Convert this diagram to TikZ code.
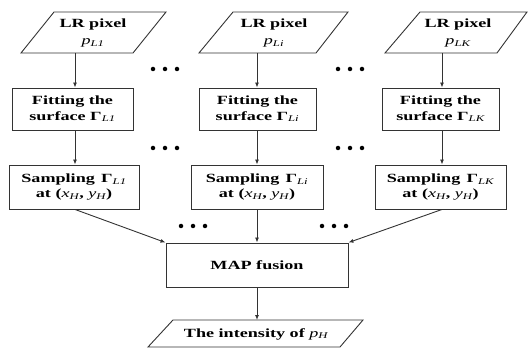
\documentclass[tikz,border=0pt]{standalone}
\usepackage{fontspec}
\setmainfont{Liberation Serif}[FakeStretch=1.45]
\usetikzlibrary{arrows.meta}
\newcommand\isub[2]{{\mdseries\itshape #1\textsubscript{#2}}}
\newcommand\gsub[1]{Γ{\mdseries\itshape\textsubscript{#1}}}
\begin{document}
\begin{tikzpicture}[x=1pt,y=-1pt,
  ln/.style={draw=black!80,line width=0.9pt},
  arr/.style={ln,-{Latex[length=5pt,width=4pt]}},
  box/.style={ln,rectangle,inner sep=0pt,align=center,font=\bfseries\fontsize{12.5}{15.5}\selectfont},
  txt/.style={inner sep=0pt,align=center,font=\bfseries\fontsize{12.5}{15.5}\selectfont},
  dot/.style={fill=black,circle,inner sep=0pt,minimum size=4.5pt}]
\useasboundingbox (0,0) rectangle (528,350);
% input parallelograms
\draw[ln] (21,53) -- (54,12) -- (166,12) -- (133,53) -- cycle;
\draw[ln] (199,53) -- (233,12) -- (348,12) -- (316,53) -- cycle;
\draw[ln] (385,53) -- (420,12) -- (527,12) -- (497,53) -- cycle;
\node[txt] (in1) at (93,33) {LR pixel\\[1pt]\isub{p}{L1}};
\node[txt] (in2) at (274,33) {LR pixel\\[1pt]\isub{p}{Li}};
\node[txt] (in3) at (458,33) {LR pixel\\[1pt]\isub{p}{LK}};
\coordinate (o1) at (75,53);
\coordinate (o2) at (257,53);
\coordinate (o3) at (442,53);
% fitting boxes
\node[box,minimum width=121pt,minimum height=42pt] (f1) at (72.5,109) {Fitting the\\surface \gsub{L1}};
\node[box,minimum width=117pt,minimum height=42pt] (f2) at (257.5,109) {Fitting the\\surface \gsub{Li}};
\node[box,minimum width=117pt,minimum height=42pt] (f3) at (440.5,109) {Fitting the\\surface \gsub{LK}};
% sampling boxes
\node[box,minimum width=130pt,minimum height=44pt] (s1) at (74,187) {Sampling\enspace \gsub{L1}\\at (\isub{x}{H}, \isub{y}{H})};
\node[box,minimum width=132pt,minimum height=44pt] (s2) at (257,187) {Sampling\enspace \gsub{Li}\\at (\isub{x}{H}, \isub{y}{H})};
\node[box,minimum width=131pt,minimum height=44pt] (s3) at (440.5,187) {Sampling\enspace \gsub{LK}\\at (\isub{x}{H}, \isub{y}{H})};
% fusion
\node[box,minimum width=182pt,minimum height=44pt] (map) at (257,265) {MAP fusion};
% output
\draw[ln] (148,347) -- (173,320) -- (363,320) -- (340,347) -- cycle;
\node[txt] (out) at (256,334) {The intensity of \isub{p}{H}};
\coordinate (oi) at (257,320);
% arrows
\draw[arr] (o1) -- (f1.north -| o1);
\draw[arr] (o2) -- (f2.north -| o2);
\draw[arr] (o3) -- (f3.north -| o3);
\draw[arr] (f1.south -| o1) -- (s1.north -| o1);
\draw[arr] (f2.south -| o2) -- (s2.north -| o2);
\draw[arr] (f3.south -| o3) -- (s3.north -| o3);
\draw[arr] (s1.south -| o1) -- (map.north west);
\draw[arr] (s2.south -| o2) -- (map.north -| o2);
\draw[arr] (s3.south -| o3) -- (map.north east);
\draw[arr] (map.south -| oi) -- (oi);
% dots
\foreach \x/\y in {165/69, 350/69, 165/148, 350/148, 193/226, 334/226}{
  \node[dot] at (\x-12,\y) {};
  \node[dot] at (\x,\y) {};
  \node[dot] at (\x+12,\y) {};
}
\end{tikzpicture}
\end{document}
